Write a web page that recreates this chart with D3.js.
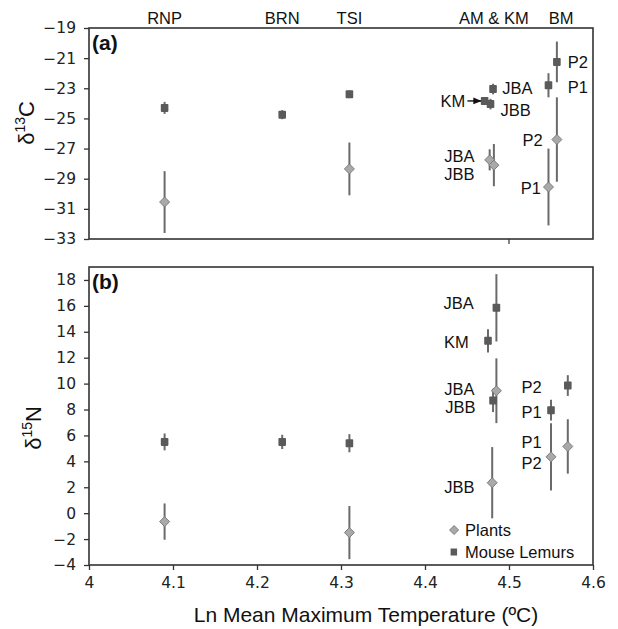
<!DOCTYPE html>
<html>
<head>
<meta charset="utf-8">
<script src="https://cdn.jsdelivr.net/npm/d3@7"></script>
<style>
  body { margin: 0; background: #fff; }
  svg { display: block; }
  .tick text { font-family: "DejaVu Sans", sans-serif; font-size: 15.5px; fill: #222; }
  .lbl { font-family: "Liberation Sans", Arial, sans-serif; font-size: 16.5px; fill: #111; }
</style>
</head>
<body>
<svg id="chart" width="618" height="629"></svg>
<script>
'use strict';

// sites along the top
var siteNames = ["RNP", "BRN", "TSI", "AM & KM", "BM"];
var siteX = [4.09, 4.23, 4.31, 4.482, 4.562];

// panel (a) d13C
var cMouseX = [4.09, 4.23, 4.31, 4.471, 4.478, 4.481, 4.547, 4.557];
var cMouseY = [-24.3, -24.75, -23.4, -23.85, -24.05, -23.05, -22.8, -21.25];
var cMouseErr = [0.4, 0.3, 0.25, 0.25, 0.35, 0.35, 0.8, 1.35];
var cPlantX = [4.09, 4.31, 4.477, 4.482, 4.547, 4.557];
var cPlantY = [-30.55, -28.35, -27.75, -28.1, -29.55, -26.4];
var cPlantErr = [2.05, 1.75, 0.7, 1.4, 2.55, 2.8];

// panel (b) d15N
var nMouseX = [4.09, 4.23, 4.31, 4.475, 4.481, 4.485, 4.55, 4.57];
var nMouseY = [5.5, 5.5, 5.4, 13.3, 8.7, 15.85, 7.95, 9.85];
var nMouseErr = [0.65, 0.55, 0.7, 0.9, 0.9, 2.6, 0.8, 0.8];
var nPlantX = [4.09, 4.31, 4.48, 4.485, 4.55, 4.57];
var nPlantY = [-0.65, -1.5, 2.35, 9.45, 4.35, 5.15];
var nPlantErr = [1.4, 2.05, 2.75, 2.5, 2.6, 2.1];

// point labels (text, x, y, anchor)
var cLabels = [
  ["JBA", 4.492, -22.98, "start"], ["KM", 4.448, -23.84, "end"], ["JBB", 4.490, -24.44, "start"],
  ["P2", 4.570, -21.26, "start"], ["P1", 4.570, -22.9, "start"],
  ["P2", 4.540, -26.43, "end"], ["P1", 4.538, -29.6, "end"],
  ["JBA", 4.459, -27.5, "end"], ["JBB", 4.459, -28.68, "end"]
];
var nLabels = [
  ["JBA", 4.458, 16.2, "end"], ["KM", 4.452, 13.2, "end"],
  ["JBA", 4.459, 9.55, "end"], ["JBB", 4.460, 8.15, "end"],
  ["P2", 4.539, 9.74, "end"], ["P1", 4.539, 7.8, "end"],
  ["P1", 4.539, 5.45, "end"], ["P2", 4.539, 3.83, "end"],
  ["JBB", 4.459, 2.0, "end"]
];

var xTicks = [4, 4.1, 4.2, 4.3, 4.4, 4.5, 4.6];
var cTicks = [-33, -31, -29, -27, -25, -23, -21, -19];
var nTicks = [-4, -2, 0, 2, 4, 6, 8, 10, 12, 14, 16, 18];

var svg = d3.select("#chart");
var left = 89, right = 593;
var x = d3.scaleLinear().domain([4, 4.6]).range([left, right]);
var yC = d3.scaleLinear().domain([-33, -19]).range([239, 28]);
var yN = d3.scaleLinear().domain([-4, 19]).range([565, 267]);

var frameCol = "#333", barCol = "#6a6a6a", mouseCol = "#5a5a5a", plantFill = "#a9a9a9", plantStroke = "#7d7d7d";

function zip(xs, ys, es) {
  return xs.map(function (v, i) { return {x: v, y: ys[i], e: es[i]}; });
}

function diamond(sel, s) {
  sel.attr("d", "M0," + (-s) + "L" + s + ",0L0," + s + "L" + (-s) + ",0Z")
    .attr("fill", plantFill).attr("stroke", plantStroke).attr("stroke-width", 1);
}

function panel(y, ticks, mice, plants, labels, tag) {
  var g = svg.append("g");
  var yr = y.range();

  g.append("rect")
    .attr("x", left).attr("y", yr[1])
    .attr("width", right - left).attr("height", yr[0] - yr[1])
    .attr("fill", "none").attr("stroke", frameCol).attr("stroke-width", 1.6);

  var ya = g.append("g")
    .attr("transform", "translate(" + left + ",0)")
    .call(d3.axisLeft(y).tickValues(ticks).tickSize(5).tickPadding(8).tickFormat(d3.format("d")));
  ya.select(".domain").remove();
  ya.selectAll(".tick line").attr("stroke", frameCol).attr("stroke-width", 1.3);

  // error bars
  var all = mice.concat(plants);
  g.selectAll(".err").data(all).enter().append("line")
    .attr("x1", function (d) { return x(d.x); })
    .attr("x2", function (d) { return x(d.x); })
    .attr("y1", function (d) { return y(d.y + d.e); })
    .attr("y2", function (d) { return y(d.y - d.e); })
    .attr("stroke", barCol).attr("stroke-width", 2);

  g.selectAll(".plant").data(plants).enter().append("path")
    .attr("transform", function (d) { return "translate(" + x(d.x) + "," + y(d.y) + ")"; })
    .call(diamond, 5);

  g.selectAll(".mouse").data(mice).enter().append("rect")
    .attr("x", function (d) { return x(d.x) - 3.8; })
    .attr("y", function (d) { return y(d.y) - 4; })
    .attr("width", 7.6).attr("height", 8).attr("rx", 0.8)
    .attr("fill", mouseCol);

  g.selectAll(".ptl").data(labels).enter().append("text")
    .attr("class", "lbl")
    .attr("x", function (d) { return x(d[1]); })
    .attr("y", function (d) { return y(d[2]); })
    .attr("dy", "0.35em")
    .attr("text-anchor", function (d) { return d[3]; })
    .text(function (d) { return d[0]; });

  g.append("text")
    .attr("x", left + 3).attr("y", yr[1] + 22)
    .attr("font-family", "Liberation Sans, Arial, sans-serif")
    .attr("font-weight", "bold").attr("font-size", 21).attr("fill", "#111")
    .text(tag);

  return g;
}

var ga = panel(yC, cTicks, zip(cMouseX, cMouseY, cMouseErr), zip(cPlantX, cPlantY, cPlantErr), cLabels, "(a)");
var gb = panel(yN, nTicks, zip(nMouseX, nMouseY, nMouseErr), zip(nPlantX, nPlantY, nPlantErr), nLabels, "(b)");

// KM arrow in panel (a)
svg.append("defs").append("marker")
  .attr("id", "arr").attr("viewBox", "0 0 10 10").attr("refX", 9).attr("refY", 5)
  .attr("markerWidth", 6).attr("markerHeight", 6).attr("orient", "auto")
  .append("path").attr("d", "M0,1L10,5L0,9Z").attr("fill", "#111");
ga.append("line")
  .attr("x1", x(4.4505)).attr("x2", x(4.4665))
  .attr("y1", yC(-23.84)).attr("y2", yC(-23.84))
  .attr("stroke", "#111").attr("stroke-width", 1.4)
  .attr("marker-end", "url(#arr)");

// lone tick under panel (a)
ga.append("line")
  .attr("x1", x(4.5)).attr("x2", x(4.5))
  .attr("y1", yC.range()[0]).attr("y2", yC.range()[0] + 5)
  .attr("stroke", frameCol).attr("stroke-width", 1.2);

// bottom x axis
var xa = svg.append("g")
  .attr("transform", "translate(0," + yN.range()[0] + ")")
  .call(d3.axisBottom(x).tickValues(xTicks).tickSize(5).tickPadding(7)
    .tickFormat(function (d) { return d3.format("")(+d.toFixed(1)); }));
xa.select(".domain").remove();
xa.selectAll(".tick line").attr("stroke", frameCol).attr("stroke-width", 1.3);

// site names on top
svg.selectAll(".site").data(siteNames).enter().append("text")
  .attr("class", "lbl")
  .attr("x", function (d, i) { return x(siteX[i]); })
  .attr("y", 18).attr("dy", "0.35em")
  .attr("text-anchor", "middle")
  .text(function (d) { return d; });

// axis titles
svg.append("text")
  .attr("x", 366).attr("y", 622)
  .attr("text-anchor", "middle")
  .attr("font-family", "Liberation Sans, Arial, sans-serif")
  .attr("font-size", 21).attr("fill", "#111")
  .text("Ln Mean Maximum Temperature (ºC)");

function yTitle(cx, cy, sup, letter) {
  var t = svg.append("text")
    .attr("transform", "translate(" + cx + "," + cy + ") rotate(-90)")
    .attr("text-anchor", "middle")
    .attr("font-family", "Liberation Sans, Arial, sans-serif")
    .attr("font-size", 22).attr("fill", "#111");
  t.append("tspan").text("δ");
  t.append("tspan").attr("font-size", 14).attr("dy", -9).text(sup);
  t.append("tspan").attr("dy", 9).text(letter);
}
yTitle(34, 123, "13", "C");
yTitle(41, 428, "15", "N");

// legend
var leg = gb.append("g").attr("transform", "translate(" + x(4.437) + "," + yN(-1.3) + ")");
leg.append("path").attr("transform", "translate(-2,0)").call(diamond, 4.5);
leg.append("text").attr("class", "lbl").attr("x", 9).attr("dy", "0.35em").attr("font-size", 17).text("Plants");
leg.append("rect").attr("x", -5.5).attr("y", 18.5).attr("width", 6.5).attr("height", 7).attr("fill", mouseCol);
leg.append("text").attr("class", "lbl").attr("x", 9).attr("y", 22).attr("dy", "0.35em").text("Mouse Lemurs");
</script>
</body>
</html>
